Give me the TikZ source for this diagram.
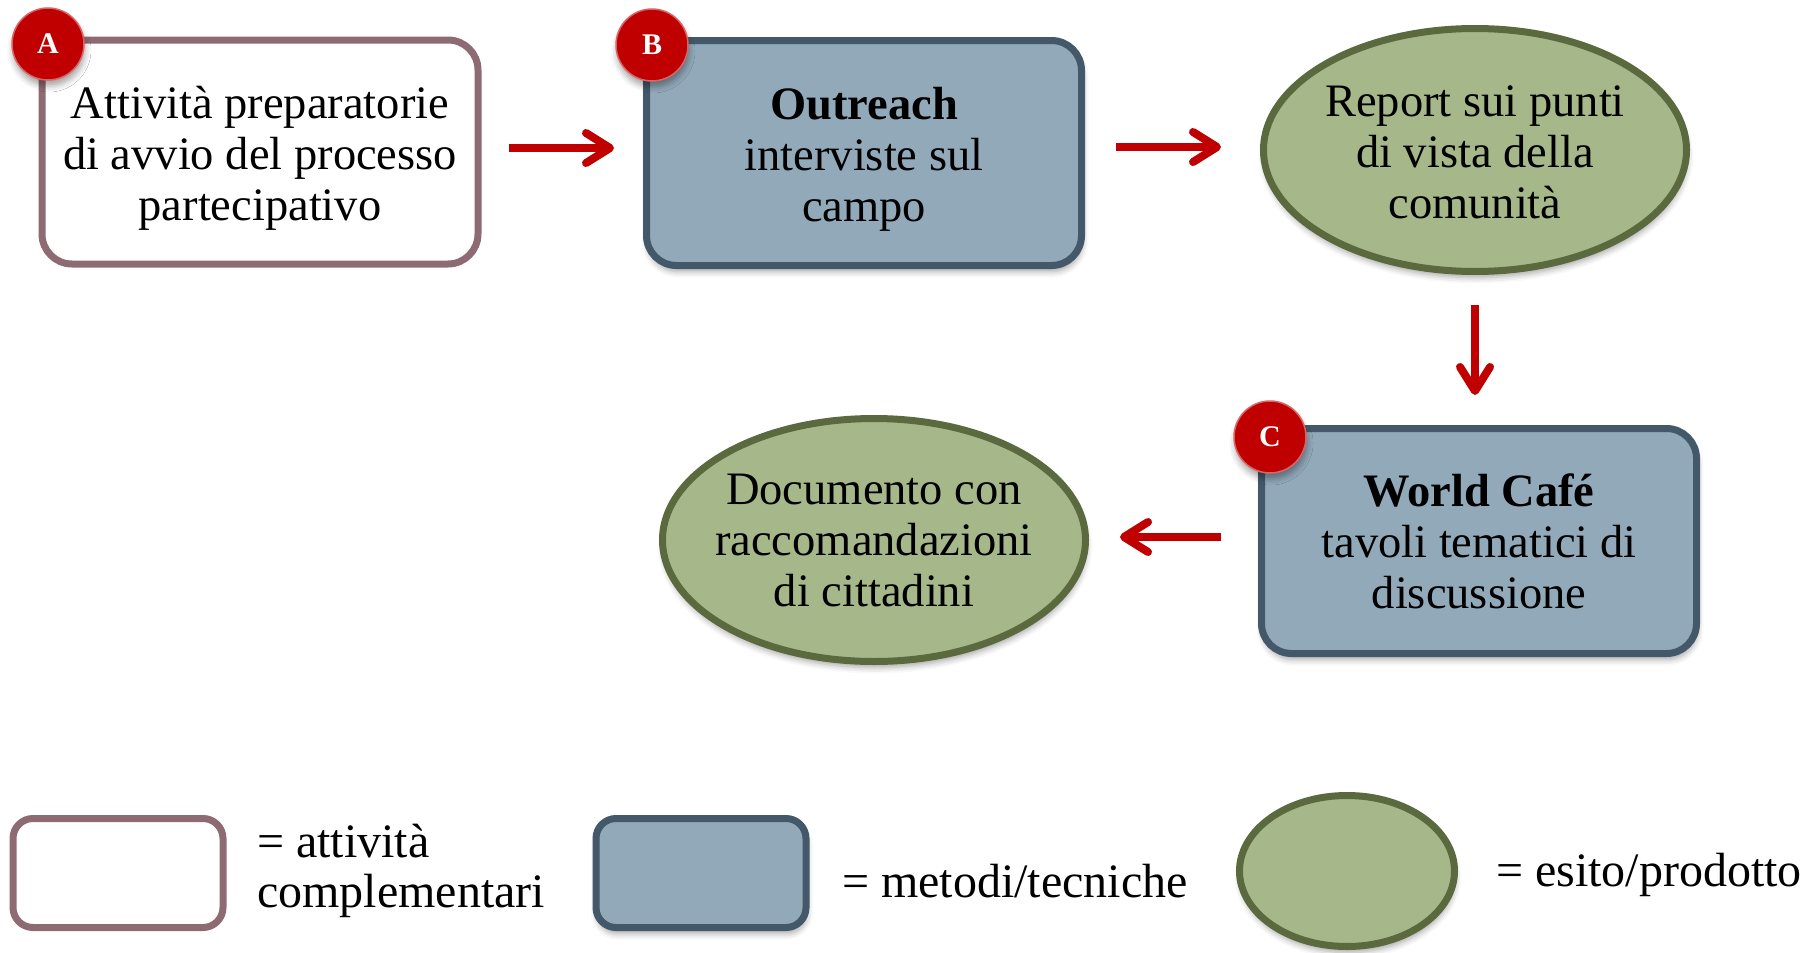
\documentclass[tikz,border=0pt]{standalone}
\usepackage{fontspec}
\setmainfont{Liberation Serif}
\usetikzlibrary{shapes.geometric,arrows.meta,shadows.blur}
\definecolor{mauve}{HTML}{8E6A73}
\definecolor{bfill}{HTML}{92A9BA}
\definecolor{bdark}{HTML}{43596A}
\definecolor{gfill}{HTML}{A6B78A}
\definecolor{gdark}{HTML}{5B6A3E}
\definecolor{badgered}{HTML}{C00000}
\begin{document}
\begin{tikzpicture}[x=1pt,y=-1pt,
  txt/.style={font=\fontsize{46.5}{51}\selectfont, align=center, text=black, inner sep=0pt},
  shad/.style={blur shadow={shadow xshift=1pt, shadow yshift=-6pt, shadow blur radius=6pt, shadow opacity=35}},
  actbox/.style={draw=mauve, fill=white, line width=7pt, rounded corners=30pt, minimum width=436pt, minimum height=224pt},
  metbox/.style={draw=bdark, fill=bfill, line width=7pt, rounded corners=30pt, minimum width=435pt, minimum height=225pt, shad},
  outell/.style={ellipse, draw=gdark, fill=gfill, line width=7pt, minimum width=423pt, minimum height=243pt, inner sep=0pt, shad},
  badge/.style={circle, fill=badgered, draw=badgered!60!white, line width=1.5pt, minimum size=72pt, inner sep=0pt, text=white, font=\fontsize{30}{30}\selectfont\bfseries, shad},
  arr/.style={draw=badgered, line width=8pt, -{Straight Barb[length=24pt,width=30pt,round]}},
  legtxt/.style={font=\fontsize{48}{50}\selectfont, align=left, anchor=west, inner sep=0pt, text=black}
]
\useasboundingbox (0,0) rectangle (1818,953);

% main shapes
\node[actbox] (A) at (260,152) {};
\node[metbox] (B) at (864,153) {};
\node[outell] (R) at (1475,150) {};
\node[metbox] (C) at (1479,541) {};
\node[outell] (D) at (874,540) {};

% texts
\node[txt] (At) at ([yshift=-6pt]A.center) {Attività preparatorie\\di avvio del processo\\partecipativo};
\node[txt] (Bt) at ([yshift=-6pt]B.center) {\textbf{Outreach}\\interviste sul\\campo};
\node[txt] (Rt) at ([yshift=-2pt]R.center) {Report sui punti\\di vista della\\comunità};
\node[txt] (Ct) at ([yshift=0pt]C.center) {\textbf{World Café}\\tavoli tematici di\\discussione};
\node[txt] (Dt) at ([yshift=0pt]D.center) {Documento con\\raccomandazioni\\di cittadini};

% badges
\node[badge] (bA) at (48,44) {A};
\node[badge] (bB) at (652,45) {B};
\node[badge] (bC) at (1270,437) {C};

% connectors
\draw[arr, shorten <=27pt, shorten >=29pt] ([yshift=4pt]A.east) -- ([yshift=4pt]A.east -| B.west);
\draw[arr, shorten <=31pt, shorten >=39pt] ([yshift=6pt]B.east) -- ([yshift=6pt]B.east -| R.west);
\draw[arr, shorten <=30pt, shorten >=30pt] (R.south) -- (R.south |- C.north);
\draw[arr, shorten <=37pt, shorten >=31pt] ([yshift=4pt]C.west) -- ([yshift=4pt]C.west -| D.east);

% legend
\node[draw=mauve, fill=white, line width=7pt, rounded corners=20pt, minimum width=210pt, minimum height=109pt] (L1) at (118,873) {};
\node[legtxt] (L1t) at (257,871) {= attività\\complementari};
\node[draw=bdark, fill=bfill, line width=7pt, rounded corners=20pt, minimum width=210pt, minimum height=109pt, shad] (L2) at (701,873) {};
\node[legtxt] (L2t) at (842,881) {= metodi/tecniche};
\node[ellipse, draw=gdark, fill=gfill, line width=7pt, minimum width=215pt, minimum height=151pt, shad] (L3) at (1347,871) {};
\node[legtxt] (L3t) at (1496,875) {= esito/prodotto};
\end{tikzpicture}
\end{document}
